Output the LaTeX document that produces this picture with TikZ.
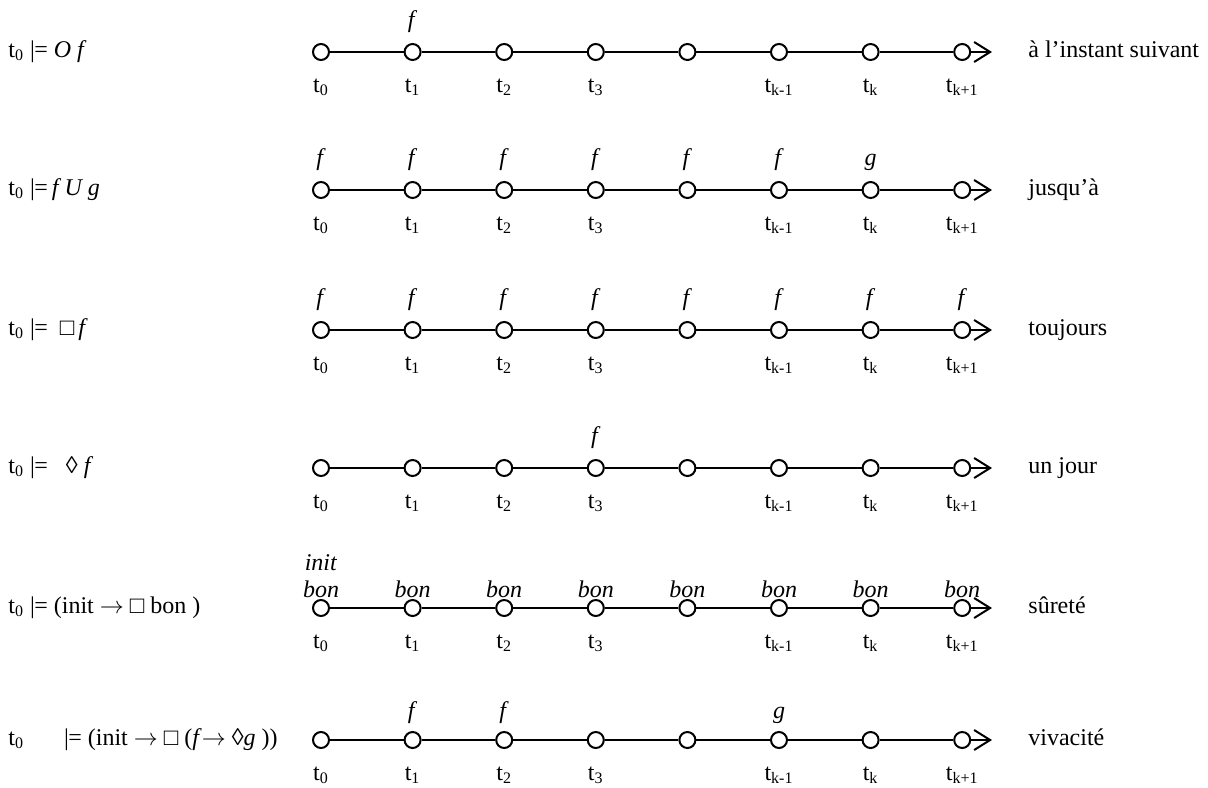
\documentclass[tikz,border=0pt]{standalone}
\usepackage{fontspec}
\setmainfont{Liberation Serif}
\usetikzlibrary{arrows.meta}

\newcommand{\sat}{\textbar\kern-0.02em=}
\newcommand{\ti}[1]{t\textsubscript{#1}}
\newcommand{\impl}{$\rightarrow$}

\begin{document}
\begin{tikzpicture}[x=0.5pt, y=-0.5pt, font=\fontsize{12}{14}\selectfont,
  pt/.style={circle, draw, line width=1pt, fill=white, minimum size=8pt, inner sep=0pt},
  ln/.style={line width=1pt},
  fleche/.style={ln, -{Straight Barb[length=8pt, width=10pt, line width=1pt]}},
  lab/.style={anchor=base, inner sep=0pt},
  formule/.style={anchor=base west, inner sep=0pt},
  sens/.style={anchor=base west, inner sep=0pt}]
\useasboundingbox (0,0) rectangle (1208,787);

% axes du temps : cercles, segments, fleche et instants
\foreach \r/\y in {1/52, 2/190, 3/330, 4/468, 5/608, 6/740}{
  \foreach \i in {0,...,7}
    \node[pt] (c\r-\i) at ({321+91.6*\i}, \y) {};
  \foreach \i [evaluate=\i as \j using int(\i+1)] in {0,...,6}
    \draw[ln] (c\r-\i) -- (c\r-\j);
  \coordinate (fin\r) at (992, \y);
  \draw[fleche] (c\r-7) -- (fin\r);
  \foreach \i/\s in {0/0, 1/1, 2/2, 3/3, 5/k-1, 6/k, 7/k+1}
    \node[lab] (t\r-\i) at ({321+91.6*\i}, \y+40) {\ti{\s}};
}

% formules a gauche
\node[formule] (e1) at (8, 57)  {\ti{0} \sat\ \textit{O f}};
\node[formule] (e2) at (8, 195) {\ti{0} \sat\,\textit{f U g}};
\node[formule] (e3) at (8, 335) {\ti{0} \sat\ \ □\,\textit{f}};
\node[formule] (e4) at (8, 473) {\ti{0} \sat\ \ \ ◊ \textit{f}};
\node[formule] (e5) at (8, 613) {\ti{0} \sat\ (init \impl\ □ bon )};
\node[formule] (e6) at (8, 745) {\ti{0}\hspace{20pt}\sat\ (init \impl\ □ (\textit{f}\impl\ ◊\textit{g} ))};

% lecture a droite
\node[sens] (d1) at (1028, 57)  {à l’instant suivant};
\node[sens] (d2) at (1028, 195) {jusqu’à};
\node[sens] (d3) at (1028, 335) {toujours};
\node[sens] (d4) at (1028, 473) {un jour};
\node[sens] (d5) at (1028, 613) {sûreté};
\node[sens] (d6) at (1028, 745) {vivacité};

% propositions au-dessus des instants
\node[lab] (p1-1) at ({321+91.6*1}, 27) {\textit{f}};
\foreach \i in {0,...,5}
  \node[lab] (p2-\i) at ({321+91.6*\i}, 165) {\textit{f}};
\node[lab] (p2-6) at ({321+91.6*6}, 165) {\textit{g}};
\foreach \i in {0,...,7}
  \node[lab] (p3-\i) at ({321+91.6*\i}, 305) {\textit{f}};
\node[lab] (p4-3) at ({321+91.6*3}, 443) {\textit{f}};
\foreach \i in {0,...,7}
  \node[lab] (p5-\i) at ({321+91.6*\i}, 597) {\textit{bon}};
\node[lab] (q5-0) at (321, 570) {\textit{init}};
\node[lab] (p6-1) at ({321+91.6*1}, 718) {\textit{f}};
\node[lab] (p6-2) at ({321+91.6*2}, 718) {\textit{f}};
\node[lab] (p6-5) at ({321+91.6*5}, 718) {\textit{g}};
\end{tikzpicture}
\end{document}
